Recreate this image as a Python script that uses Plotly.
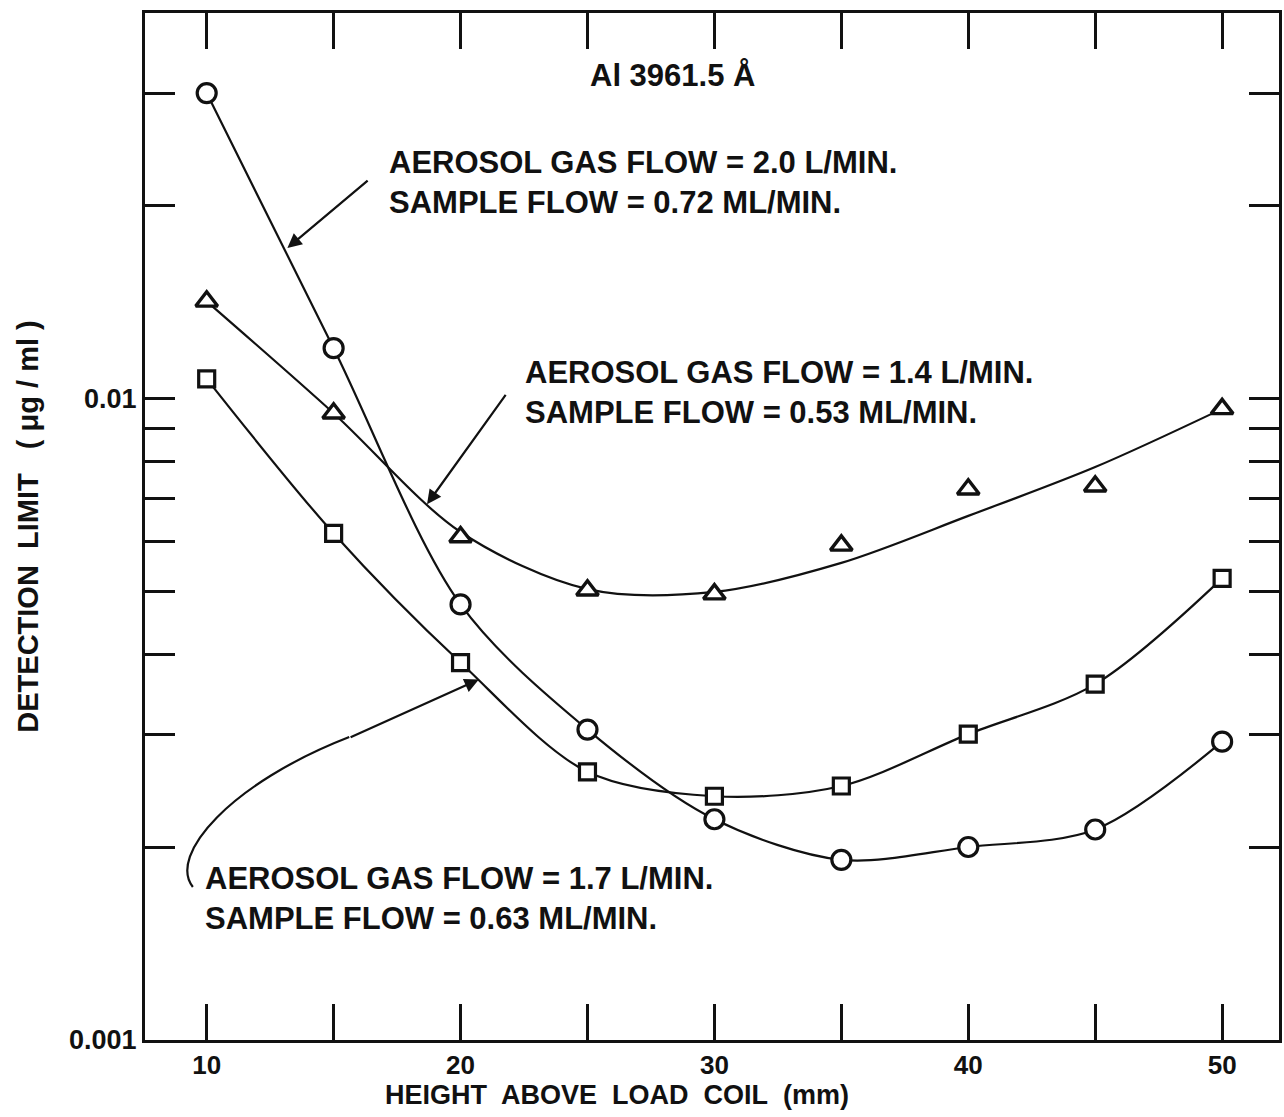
import numpy as np
import plotly.graph_objects as go

# ---- data ----
heights = [10, 15, 20, 25, 30, 35, 40, 45, 50]

# Aerosol gas flow 2.0 L/min (circles)
dl_flow_2_0 = [0.0300, 0.0120, 0.00478, 0.00305, 0.00221, 0.00191, 0.00200, 0.00213, 0.00292]
# Aerosol gas flow 1.4 L/min (triangles) - measured points
dl_flow_1_4 = [0.0142, 0.0095, 0.00609, 0.00503, 0.00496, 0.00591, 0.00723, 0.00731, 0.00965]
# Aerosol gas flow 1.4 L/min - smooth curve drawn through the points
dl_flow_1_4_curve = [0.0142, 0.0095, 0.0062, 0.00505, 0.00500, 0.00555, 0.00657, 0.00783, 0.00965]
# Aerosol gas flow 1.7 L/min (squares)
dl_flow_1_7 = [0.01075, 0.00617, 0.00388, 0.00262, 0.00240, 0.00249, 0.00300, 0.00359, 0.00525]

x_tick_vals = [10, 15, 20, 25, 30, 35, 40, 45, 50]
x_tick_text = ["10", "", "20", "", "30", "", "40", "", "50"]
y_tick_vals = [0.001, 0.002, 0.003, 0.004, 0.005, 0.006, 0.007, 0.008, 0.009, 0.01, 0.02, 0.03]
y_tick_text = ["0.001", "", "", "", "", "", "", "", "", "0.01", "", ""]

NB = "\u00a0"
label_2_0 = "AEROSOL GAS FLOW = 2.0 L/MIN.<br>SAMPLE FLOW = 0.72 ML/MIN."
label_1_4 = "AEROSOL GAS FLOW = 1.4 L/MIN.<br>SAMPLE FLOW = 0.53 ML/MIN."
label_1_7 = "AEROSOL GAS FLOW = 1.7 L/MIN.<br>SAMPLE FLOW = 0.63 ML/MIN."
line_label = "Al 3961.5 Å"
x_title = f"HEIGHT{NB} ABOVE{NB} LOAD{NB} COIL{NB} (mm)"
y_title = f"DETECTION{NB} LIMIT{NB} {NB}( μg / ml )"

FONT = "Liberation Sans"
BLACK = "#111111"

fig = go.Figure()

fig.add_trace(go.Scatter(
    x=heights, y=dl_flow_2_0, mode="lines+markers", name="2.0 L/min",
    line=dict(color=BLACK, width=2.2, shape="spline", smoothing=0.9),
    marker=dict(symbol="circle", size=19, color="white", line=dict(color=BLACK, width=3.2)),
))
fig.add_trace(go.Scatter(
    x=heights, y=dl_flow_1_4_curve, mode="lines", name="1.4 L/min curve",
    line=dict(color=BLACK, width=2.2, shape="spline", smoothing=0.9),
))
fig.add_trace(go.Scatter(
    x=heights, y=dl_flow_1_4, mode="markers", name="1.4 L/min",
    marker=dict(symbol="triangle-up", size=19, color="white", line=dict(color=BLACK, width=3.4)),
))
fig.add_trace(go.Scatter(
    x=heights, y=dl_flow_1_7, mode="lines+markers", name="1.7 L/min",
    line=dict(color=BLACK, width=2.2, shape="spline", smoothing=0.9),
    marker=dict(symbol="square", size=16, color="white", line=dict(color=BLACK, width=3.2)),
))

text_font = dict(family=FONT, size=31, color=BLACK, weight="bold")

annotations = [
    dict(xref="paper", yref="paper", x=0.391, y=0.9396, xanchor="left", yanchor="middle",
         text=line_label, showarrow=False, font=text_font),
    dict(xref="paper", yref="paper", x=0.2135, y=0.8354, xanchor="left", yanchor="middle",
         align="left", text=label_2_0, showarrow=False, font=text_font),
    dict(xref="paper", yref="paper", x=0.333, y=0.6305, xanchor="left", yanchor="middle",
         align="left", text=label_1_4, showarrow=False, font=text_font),
    dict(xref="paper", yref="paper", x=0.051, y=0.1373, xanchor="left", yanchor="middle",
         align="left", text=label_1_7, showarrow=False, font=text_font),
    # x axis title (placed as in the original, left of centre)
    dict(xref="paper", yref="paper", x=0.416, y=-0.0535, xanchor="center", yanchor="middle",
         text=x_title, showarrow=False,
         font=dict(family=FONT, size=27, color=BLACK, weight="bold")),
]

# leader arrows (tip on the curve, tail near the label)
arrow_style = dict(showarrow=True, arrowhead=2, arrowsize=1.3, arrowwidth=2.2,
                   arrowcolor=BLACK, text="", axref="x", ayref="y")
annotations += [
    dict(x=13.18, y=np.log10(0.0172), ax=16.40, ay=np.log10(0.0220), **arrow_style),
    dict(x=18.68, y=np.log10(0.00685), ax=21.82, ay=np.log10(0.0102), **arrow_style),
    dict(x=20.72, y=np.log10(0.00365), ax=15.61, ay=np.log10(0.00296), **arrow_style),
]

shapes = [
    dict(type="path", xref="paper", yref="paper",
         path="M 0.0422 0.149 C 0.020 0.180, 0.075 0.250, 0.1801 0.2950",
         line=dict(color=BLACK, width=2.2)),
]

fig.update_layout(
    width=1284, height=1117,
    margin=dict(l=145, r=2, t=13, b=77),
    paper_bgcolor="white", plot_bgcolor="white",
    showlegend=False,
    annotations=annotations,
    shapes=shapes,
    font=dict(family=FONT, color=BLACK),
)

fig.update_xaxes(
    range=[7.57, 52.24], tickvals=x_tick_vals, ticktext=x_tick_text,
    ticks="inside", ticklen=36, tickwidth=2.5, tickcolor=BLACK,
    showline=True, linewidth=3, linecolor=BLACK, mirror="ticks",
    showgrid=False, zeroline=False,
    tickfont=dict(family=FONT, size=26, color=BLACK, weight="bold"),
)
fig.update_yaxes(
    type="log", range=[-3, np.log10(0.04)],
    tickvals=y_tick_vals, ticktext=y_tick_text,
    ticks="inside", ticklen=30, tickwidth=2.5, tickcolor=BLACK,
    showline=True, linewidth=3, linecolor=BLACK, mirror="ticks",
    showgrid=False, zeroline=False,
    tickfont=dict(family=FONT, size=27, color=BLACK, weight="bold"),
    title=dict(text=y_title, standoff=22,
               font=dict(family=FONT, size=29, color=BLACK, weight="bold")),
)

fig.write_html("out.html")
